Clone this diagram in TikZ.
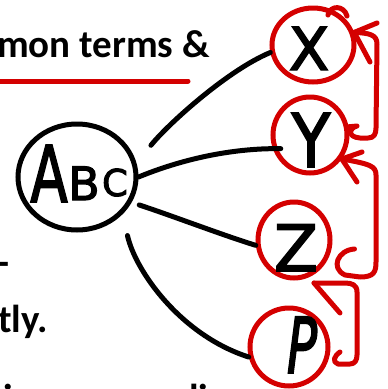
\documentclass[tikz,border=0pt]{standalone}
\usepackage{fontspec}
\setmainfont{Carlito}
\newfontfamily\handfont[FakeBold=2.5]{DejaVu Sans}
\usetikzlibrary{shapes.geometric}
\definecolor{penred}{RGB}{212,0,0}
\begin{document}
\begin{tikzpicture}[x=1pt,y=-1pt,
  slide/.style={font=\bfseries\fontsize{39}{47}\selectfont, inner sep=0pt},
  pen/.style={line width=5pt, line cap=round, line join=round},
  blackpen/.style={pen, draw=black},
  redpen/.style={pen, draw=penred},
  ring/.style={ellipse, line width=5pt, inner sep=0pt},
  hand/.style={font=\handfont, inner sep=0pt}]
\useasboundingbox (0,0) rectangle (388,389);
\begin{scope}
\clip (0,0) rectangle (388,389);

% slide text behind the sketch
\node[slide, anchor=base west] (t1) at (-3,57) {mon terms \&};
\draw[redpen] (-10,81) -- (188,81);
\node[slide, anchor=base east] (t2) at (10,275) {-};
\node[slide, anchor=base west] (t3) at (-2,332) {tly.};
\node[slide, anchor=base west] (t4) at (3,411) {i};
\node[slide, anchor=base west] (t5) at (189,411) {li};

% central circle
\node[ring, draw=black, minimum width=118pt, minimum height=106pt] (abc) at (77,177) {};
\node[hand, anchor=base] (la) at (49,202) {\fontsize{78}{78}\selectfont\scalebox{0.7}[1]{A}};
\node[hand, anchor=base] (lb) at (84,200) {\fontsize{46}{46}\selectfont B};
\node[hand, anchor=base] (lc) at (115,196) {\fontsize{37}{37}\selectfont C};

% red circles
\node[ring, draw=penred, minimum width=82pt, minimum height=74pt] (x) at (313,45) {};
\node[hand, anchor=base] (lx) at (309,70) {\fontsize{59}{59}\selectfont X};
\node[ring, draw=penred, minimum width=74pt, minimum height=76pt] (y) at (310,135) {};
\node[hand, anchor=base] (ly) at (311,167) {\fontsize{74}{74}\selectfont\scalebox{0.85}[1]{Y}};
\node[ring, draw=penred, minimum width=72pt, minimum height=76pt] (z) at (294,240) {};
\node[hand, anchor=base] (lz) at (296,271) {\fontsize{64}{64}\selectfont Z};
\node[ring, draw=penred, minimum width=78pt, minimum height=78pt] (p) at (289,347) {};
\node[hand, anchor=base] (lp) at (302,373) {\fontsize{77}{77}\selectfont\itshape\scalebox{0.65}[1]{P}};

% pen loop on top of X
\draw[redpen] (328,15) .. controls (330,5) and (344,5) .. (347,16);

% black connectors
\draw[blackpen, shorten <=23pt] (abc.13) .. controls (168,124) and (228,70) .. (x.190);
\draw[blackpen, shorten >=-8pt] (abc.east) .. controls (180,160) and (230,148) .. (y.200);
\draw[blackpen, shorten <=8pt] (abc.-25) .. controls (170,215) and (225,236) .. (z.188);
\draw[blackpen, shorten <=22pt] (abc.-39) .. controls (135,270) and (180,335) .. (p.194);

% red arrows on the right
\coordinate (tipx) at (x.17);
\coordinate (tipy) at (y.-37);
\coordinate (tipz) at (314,283);
\draw[redpen] (y.12) -- (357,126) .. controls (349,128) and (347,137) .. (360,138)
  -- (368,138) .. controls (374,138) and (376,134) .. (376,128) -- (377,44)
  .. controls (377,35) and (370,33) .. (tipx);
\draw[redpen] (377,23) -- (tipx) -- (370,62);
\draw[redpen] (z.east) ++(22,9) .. controls (338,250) and (330,268) .. (345,275)
  -- (360,277) .. controls (374,277) and (376,272) .. (376,262) -- (376,175)
  .. controls (376,166) and (370,164) .. (tipy);
\draw[redpen] (362,152) -- (tipy) -- (357,182);
\draw[redpen] (340,352) .. controls (334,356) and (332,362) .. (338,364)
  -- (350,364) .. controls (355,364) and (357,360) .. (357,355) -- (357,292)
  .. controls (357,285) and (352,283) .. (345,283) -- (tipz);
\draw[redpen] (tipz) -- (340,313);
\end{scope}
\end{tikzpicture}
\end{document}
